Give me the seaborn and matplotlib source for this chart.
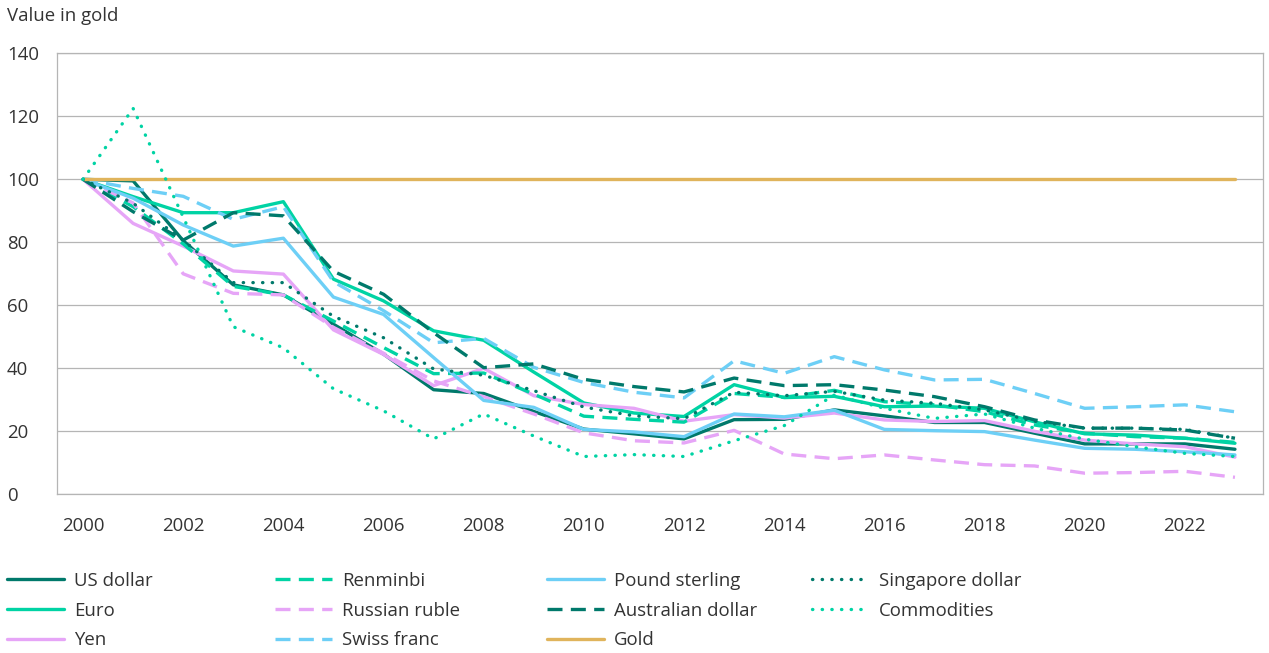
import matplotlib
matplotlib.use("Agg")
from matplotlib import pyplot as plt
import seaborn as sns

# values in gold, index 2000 = 100
years = list(range(2000, 2024))

us_dollar = [100, 99.5, 80.5, 66.5, 63.3, 54.0, 44.5, 33.2, 32.0, 26.3, 20.7, 19.2,
             17.6, 23.7, 23.8, 26.8, 24.9, 22.8, 22.8, 19.4, 16.0, 16.0, 16.0, 14.3]
euro = [100, 94.5, 89.4, 89.4, 92.9, 68.3, 61.4, 51.9, 48.9, 38.8, 29.0, 25.8,
        24.7, 34.8, 30.7, 31.1, 27.8, 28.0, 27.3, 23.0, 19.2, 18.8, 17.8, 16.2]
yen = [100, 86.0, 78.8, 70.9, 69.9, 52.2, 44.4, 34.5, 40.0, 31.3, 28.5, 27.3,
       23.2, 25.3, 24.2, 25.8, 23.6, 23.1, 23.4, 20.0, 17.2, 16.0, 15.1, 11.8]
renminbi = [100, 91.3, 79.5, 66.0, 63.3, 55.0, 46.6, 38.3, 38.5, 31.8, 24.8, 23.8,
            22.9, 32.0, 30.8, 33.0, 29.4, 28.4, 26.2, 22.0, 19.4, 18.3, 17.8, 16.5]
russian_ruble = [100, 92.5, 70.0, 63.8, 63.3, 53.0, 44.8, 36.0, 31.0, 25.5, 19.5, 17.0,
                 16.3, 20.3, 12.8, 11.3, 12.5, 10.9, 9.4, 9.0, 6.7, 6.9, 7.3, 5.4]
swiss_franc = [100, 97.1, 94.6, 87.3, 91.3, 67.5, 58.3, 48.1, 49.5, 40.3, 35.5, 32.4,
               30.6, 42.4, 38.4, 43.7, 39.5, 36.3, 36.5, 32.0, 27.3, 27.8, 28.4, 26.2]
pound_sterling = [100, 94.0, 85.5, 78.8, 81.3, 62.6, 57.1, 43.4, 29.8, 27.6, 20.6, 19.8,
                  18.3, 25.5, 24.6, 26.7, 20.6, 20.2, 19.9, 17.2, 14.6, 14.3, 13.5, 12.5]
australian_dollar = [100, 89.7, 80.7, 89.4, 88.4, 70.8, 63.5, 51.3, 40.2, 41.4, 36.5, 34.2,
                     32.5, 36.9, 34.5, 34.8, 33.1, 31.0, 27.8, 23.6, 21.0, 21.0, 20.4, 17.8]
gold = [100] * 24
singapore_dollar = [100, 92.4, 80.7, 67.2, 67.2, 56.5, 49.7, 39.8, 37.8, 32.9, 27.7, 24.9,
                    24.0, 32.4, 31.3, 32.7, 29.9, 28.9, 26.8, 23.2, 21.0, 21.0, 20.6, 17.8]
commodities = [100, 122.5, 88.0, 53.2, 46.5, 33.5, 26.5, 17.6, 25.5, 18.5, 12.0, 12.6,
               12.0, 17.0, 21.8, 31.5, 27.3, 24.1, 25.5, 21.0, 17.5, 15.1, 13.0, 12.0]

DARK = "#00796b"
BRIGHT = "#00d3a4"
PINK = "#e6a5f7"
BLUE = "#6dcff6"
GOLD = "#e0b45c"
SOLID = "-"
DASH = (0, (4.5, 2.5))
DOT = (0, (0.1, 2.8))

# (label, values, colour, linestyle); listed column by column as in the legend
series = [
    ("US dollar", us_dollar, DARK, SOLID),
    ("Euro", euro, BRIGHT, SOLID),
    ("Yen", yen, PINK, SOLID),
    ("Renminbi", renminbi, BRIGHT, DASH),
    ("Russian ruble", russian_ruble, PINK, DASH),
    ("Swiss franc", swiss_franc, BLUE, DASH),
    ("Pound sterling", pound_sterling, BLUE, SOLID),
    ("Australian dollar", australian_dollar, DARK, DASH),
    ("Gold", gold, GOLD, SOLID),
    ("Singapore dollar", singapore_dollar, DARK, DOT),
    ("Commodities", commodities, BRIGHT, DOT),
]

sns.set_style("white")
plt.rcParams["font.family"] = ["Open Sans", "DejaVu Sans"]
TEXT = "#333333"
GRID = "#b5b5b5"
FS = 13.4

W, H = 1269, 653
fig = plt.figure(figsize=(W / 100, H / 100), dpi=100)
ax = fig.add_axes([57 / W, 1 - 494.3 / H, (1263 - 57) / W, (494.3 - 53.3) / H])

handles = []
for name, vals, col, ls in series:
    sns.lineplot(x=years, y=vals, ax=ax, color=col, linestyle=ls, linewidth=2.4,
                 dash_capstyle="round" if ls is DOT else "butt", label=name, legend=False)
    handles.append(ax.get_lines()[-1])

ax.set_xlim(1999.48, 2023.56)
ax.set_ylim(0, 140)
ax.set_xticks(range(2000, 2023, 2))
ax.set_yticks(range(0, 141, 20))
ax.set_xlabel("")
ax.set_ylabel("")
ax.grid(axis="y", color=GRID, linewidth=0.9)
ax.grid(axis="x", visible=False)
ax.set_axisbelow(True)
for sp in ax.spines.values():
    sp.set_visible(True)
    sp.set_color(GRID)
    sp.set_linewidth(0.9)
ax.tick_params(axis="x", length=0, pad=16, labelsize=FS, labelcolor=TEXT)
ax.tick_params(axis="y", length=0, pad=36, labelsize=FS, labelcolor=TEXT)
for lab in ax.get_yticklabels():
    lab.set_horizontalalignment("left")

fig.text(7 / W, 1 - 16 / H, "Value in gold", fontsize=FS, color=TEXT, va="center", ha="left")

# four legend columns at fixed positions
col_x = [7, 275, 547, 812]
for c, x0 in enumerate(col_x):
    hs = handles[c * 3:c * 3 + 3]
    leg = fig.legend(hs, [h.get_label() for h in hs], loc="upper left",
                     bbox_to_anchor=(x0 / W, 1 - 572 / H), frameon=False,
                     borderpad=0, borderaxespad=0, handlelength=3.05,
                     handletextpad=0.55, labelspacing=0.63, fontsize=FS)
    for t in leg.get_texts():
        t.set_color(TEXT)

fig.savefig("out.png", dpi=100)
